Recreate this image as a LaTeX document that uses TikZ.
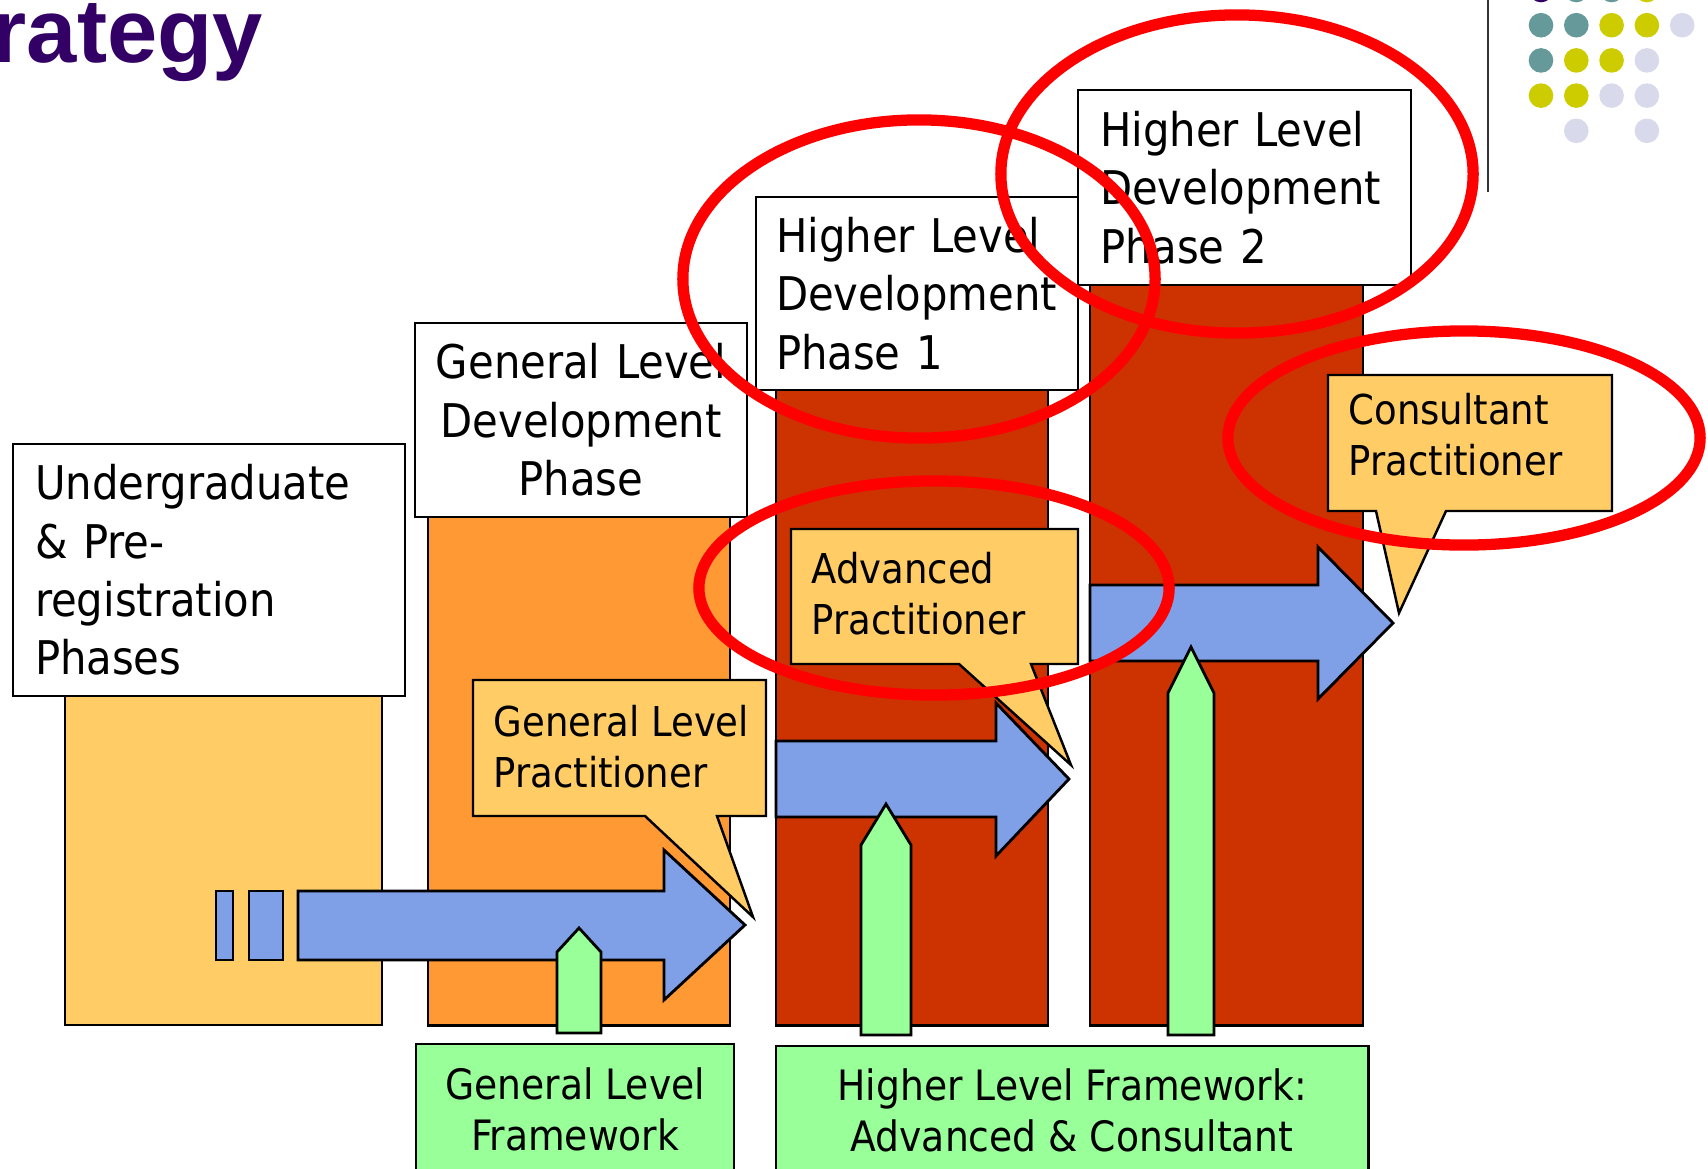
\documentclass[tikz,border=0pt]{standalone}
\usepackage{fontspec}
\setmainfont{DejaVu Sans Condensed}
\newfontfamily\titlefont{Liberation Sans}
\usetikzlibrary{positioning}

\definecolor{sandy}{HTML}{FFCC66}
\definecolor{tangerine}{HTML}{FF9933}
\definecolor{rust}{HTML}{CC3300}
\definecolor{mint}{HTML}{99FF99}
\definecolor{cornflower}{HTML}{7F9FE6}
\definecolor{plum}{HTML}{330066}
\definecolor{dotteal}{HTML}{669999}
\definecolor{dotolive}{HTML}{CCCC00}
\definecolor{dotlilac}{HTML}{D9D9EC}
\definecolor{ringred}{HTML}{FF0000}

\newcommand\phasefont{\fontsize{13.2}{16.6}\selectfont}
\newcommand\notefont{\fontsize{11.7}{14.5}\selectfont}
\newcommand\framefont{\fontsize{11.9}{14.5}\selectfont}

\begin{document}
\begin{tikzpicture}[
    x=0.01cm, y=-0.01cm,
    column/.style={draw, line width=0.7pt, rectangle, anchor=north west, inner sep=0pt, outer sep=0pt},
    phasebox/.style={draw, fill=white, line width=0.7pt, anchor=north west, inner xsep=0.22cm, inner ysep=0pt, outer sep=0pt, font=\phasefont},
    callout/.style={draw, fill=sandy, line width=0.7pt},
    notetext/.style={anchor=west, align=left, inner xsep=0.2cm, inner ysep=0pt, font=\notefont},
    bluearrow/.style={draw, fill=cornflower, line width=0.8pt},
    greenarrow/.style={draw, fill=mint, line width=0.8pt},
    framebox/.style={draw, fill=mint, line width=0.7pt, anchor=north west, align=center, inner sep=0pt, outer sep=0pt, font=\framefont},
    ring/.style={draw=ringred, line width=3.2pt},
    dot/.style={circle, inner sep=0pt, minimum size=0.246cm}
]
\useasboundingbox (0,0) rectangle (1708,1169);

% title and template dots
\node[anchor=base west, inner sep=0pt, text=plum, font=\titlefont\fontsize{25.7}{30}\bfseries\selectfont] (title) at (-9,62) {rategy};
\draw[line width=0.7pt, black!80] (1488,0) -- (1488,192);
\foreach \col/\row/\shade in {0/0/plum, 1/0/dotteal, 2/0/dotteal, 3/0/dotolive,
    0/1/dotteal, 1/1/dotteal, 2/1/dotolive, 3/1/dotolive, 4/1/dotlilac,
    0/2/dotteal, 1/2/dotolive, 2/2/dotolive, 3/2/dotlilac,
    0/3/dotolive, 1/3/dotolive, 2/3/dotlilac, 3/3/dotlilac,
    1/4/dotlilac, 3/4/dotlilac}
  \node[dot, fill=\shade] (dot-\col-\row) at ({1541+35.3*\col},{-10+35.2*\row}) {};

% columns
\node[column, fill=sandy, minimum width=3.17cm, minimum height=3.35cm] (col1) at (65,690) {};
\node[column, fill=tangerine, minimum width=3.02cm, minimum height=5.15cm] (col2) at (428,510) {};
\node[column, fill=rust, minimum width=2.72cm, minimum height=6.40cm] (col3) at (776,385) {};
\node[column, fill=rust, minimum width=2.73cm, minimum height=7.45cm] (col4) at (1090,280) {};

% phase labels
\node[phasebox, text width=3.48cm, minimum height=2.52cm, align=left] (ugrad) at (13,444)
  {Undergraduate\\\& Pre-\\registration\\Phases};
\node[phasebox, inner xsep=0.08cm, text width=3.16cm, minimum height=1.94cm, align=center] (glphase) at (415,323)
  {General Level\\Development\\Phase};
\node[phasebox, inner xsep=0.2cm, text width=2.82cm, minimum height=1.93cm, align=left] (hlone) at (756,197)
  {Higher Level\\Development\\Phase 1};
\node[phasebox, text width=2.89cm, minimum height=1.95cm, align=left] (hltwo) at (1078,90)
  {Higher Level\\Development\\Phase 2};

% progress arrows
\draw[bluearrow] (216,891) rectangle (233,960);
\draw[bluearrow] (249,891) rectangle (283,960);
\draw[bluearrow] (298,891) -- (664,891) -- (664,850) -- (745,925) -- (664,1000) -- (664,960) -- (298,960) -- cycle;
\draw[bluearrow] (776,741) -- (996,741) -- (996,703) -- (1069,779) -- (996,856) -- (996,817) -- (776,817) -- cycle;
\draw[bluearrow] (1090,585) -- (1318,585) -- (1318,547) -- (1393,623) -- (1318,699) -- (1318,661) -- (1090,661) -- cycle;

\draw[greenarrow] (557,1033) -- (557,952) -- (579,928) -- (601,952) -- (601,1033) -- cycle;
\draw[greenarrow] (861,1035) -- (861,845) -- (886,804) -- (911,845) -- (911,1035) -- cycle;
\draw[greenarrow] (1168,1035) -- (1168,693) -- (1191,647) -- (1214,693) -- (1214,1035) -- cycle;

% callouts
\draw[callout] (473,680) -- (766,680) -- (766,816) -- (717,816) -- (753,917) -- (645,816) -- (473,816) -- cycle;
\node[notetext] (glprac) at (473,747) {General Level\\Practitioner};
\draw[callout] (791,529) -- (1078,529) -- (1078,664) -- (1031,664) -- (1071,765) -- (959,664) -- (791,664) -- cycle;
\node[notetext] (adprac) at (791,594) {Advanced\\Practitioner};
\draw[callout] (1328,375) -- (1612,375) -- (1612,511) -- (1446,511) -- (1399,613) -- (1376,511) -- (1328,511) -- cycle;
\node[notetext] (coprac) at (1328,435) {Consultant\\Practitioner};

% frameworks
\node[framebox, minimum width=3.18cm, minimum height=1.30cm] (glframe) at (416,1044)
  {General Level\\Framework};
\node[framebox, minimum width=5.92cm, minimum height=1.28cm] (hlframe) at (776,1046)
  {Higher Level Framework:\\Advanced \& Consultant};

% highlight rings
\draw[ring] (919,279) ellipse [x radius=2.36cm, y radius=1.59cm];
\draw[ring] (1237,174) ellipse [x radius=2.36cm, y radius=1.59cm];
\draw[ring] (1464,438) ellipse [x radius=2.36cm, y radius=1.07cm];
\draw[ring] (934,588) ellipse [x radius=2.35cm, y radius=1.07cm];

\end{tikzpicture}
\end{document}
